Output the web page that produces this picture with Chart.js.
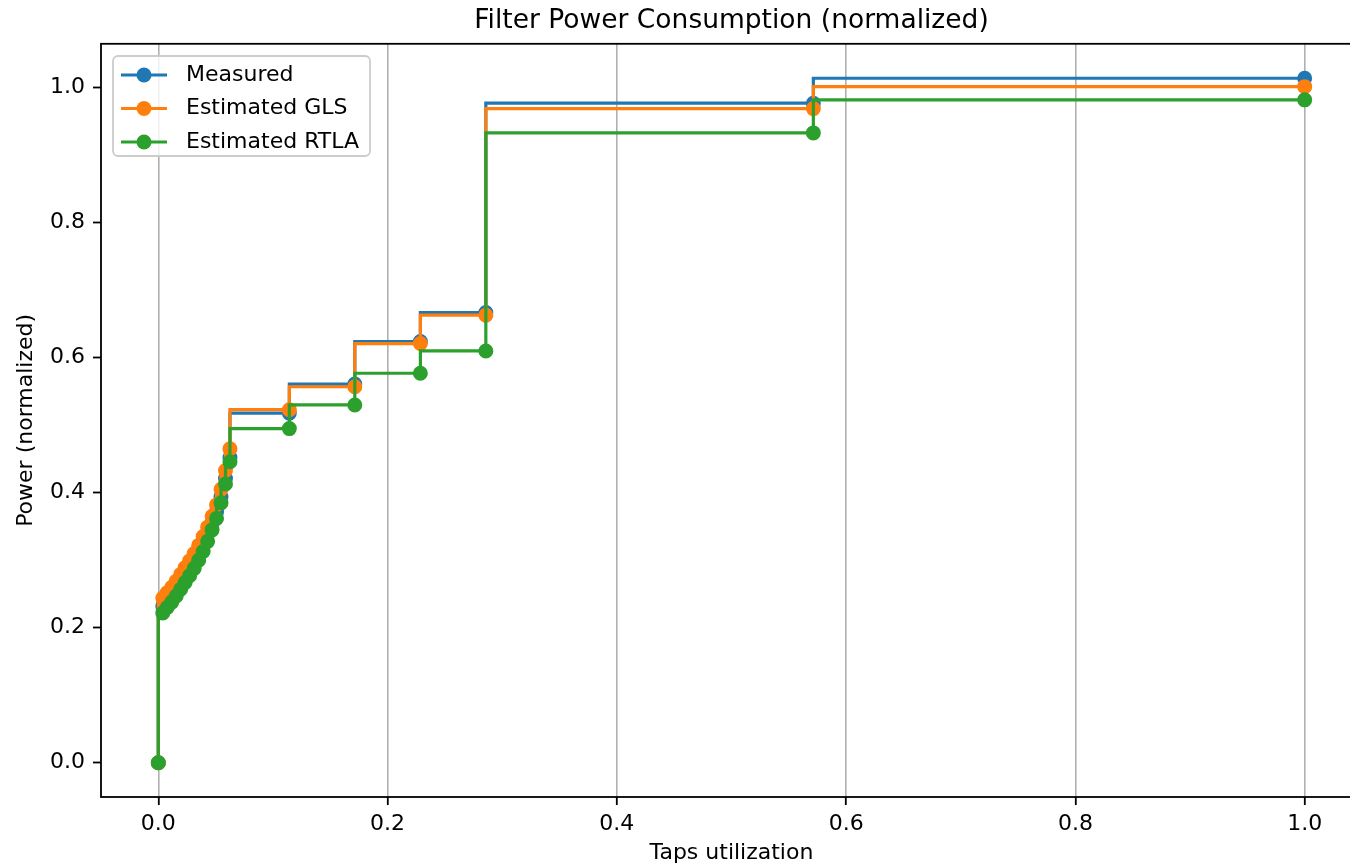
<!DOCTYPE html>
<html>
<head>
<meta charset="utf-8">
<script src="https://cdn.jsdelivr.net/npm/chart.js@4.4.1/dist/chart.umd.min.js"></script>
<style>
  html, body { margin: 0; padding: 0; background: #ffffff; overflow: hidden; }
  #wrap { width: 1380px; height: 866px; }
</style>
</head>
<body>
<div id="wrap"><canvas id="c" width="1380" height="866"></canvas></div>
<script>
// ---------------- data ----------------
const chartTitle = 'Filter Power Consumption (normalized)';
const xLabel = 'Taps utilization';
const yLabel = 'Power (normalized)';
const seriesNames = ['Measured', 'Estimated GLS', 'Estimated RTLA'];

const taps = [0,
  0.0039, 0.0078, 0.0117, 0.0156, 0.0195, 0.0234, 0.0273, 0.0313,
  0.0352, 0.0391, 0.0430, 0.0469, 0.0508, 0.0547, 0.0586, 0.0625,
  0.1143, 0.1714, 0.2286, 0.2857, 0.5714, 1.0];

const measured = [0,
  0.232, 0.240, 0.248, 0.257, 0.267, 0.277, 0.287, 0.298,
  0.311, 0.324, 0.339, 0.355, 0.372, 0.394, 0.421, 0.452,
  0.518, 0.561, 0.624, 0.667, 0.977, 1.014];

const estimatedGLS = [0,
  0.244, 0.252, 0.260, 0.269, 0.279, 0.289, 0.299, 0.310,
  0.322, 0.335, 0.349, 0.365, 0.382, 0.405, 0.433, 0.465,
  0.523, 0.557, 0.621, 0.663, 0.969, 1.0015];

const estimatedRTLA = [0,
  0.222, 0.230, 0.238, 0.247, 0.257, 0.267, 0.277, 0.288,
  0.300, 0.313, 0.328, 0.345, 0.362, 0.385, 0.413, 0.446,
  0.495, 0.530, 0.577, 0.610, 0.933, 0.982];

const xTicks = [0.0, 0.2, 0.4, 0.6, 0.8, 1.0];
const yTicks = [0.0, 0.2, 0.4, 0.6, 0.8, 1.0];
const xRange = [-0.05, 1.05];
const yRange = [-0.0507, 1.065];

// ---------------- chart ----------------
const colors = ['#1f77b4', '#ff7f0e', '#2ca02c'];
const FONT = 'DejaVu Sans';
Chart.defaults.font.family = FONT;
Chart.defaults.color = '#000000';

function pairs(ys) { return taps.map((x, i) => ({ x: x, y: ys[i] })); }

const seriesValues = [measured, estimatedGLS, estimatedRTLA];
const datasets = seriesValues.map((vals, i) => ({
  label: seriesNames[i],
  data: pairs(vals),
  borderColor: colors[i],
  backgroundColor: colors[i],
  pointBackgroundColor: colors[i],
  pointBorderColor: colors[i],
  borderWidth: 3.2,
  pointRadius: 6.5,
  pointBorderWidth: 2,
  pointHoverRadius: 6.5,
  stepped: 'after',
  fill: false,
  tension: 0,
  order: 3 - i
}));

const framePlugin = {
  id: 'frame',
  afterDatasetsDraw(chart) {
    const { ctx, chartArea: a } = chart;
    ctx.save();
    ctx.strokeStyle = '#000000';
    ctx.lineWidth = 1.8;
    ctx.strokeRect(a.left, a.top, a.right - a.left, a.bottom - a.top);
    ctx.restore();
  }
};

const legendPlugin = {
  id: 'boxLegend',
  afterDraw(chart) {
    const ctx = chart.ctx;
    const bx = 113, by = 56, bw = 257, bh = 100, r = 5;
    ctx.save();
    ctx.beginPath();
    ctx.roundRect(bx, by, bw, bh, r);
    ctx.fillStyle = 'rgba(255,255,255,0.8)';
    ctx.fill();
    ctx.strokeStyle = '#cccccc';
    ctx.lineWidth = 1.8;
    ctx.stroke();
    chart.data.datasets.forEach((ds, i) => {
      const y = 75 + i * 33.5;
      ctx.strokeStyle = ds.borderColor;
      ctx.lineWidth = 3.2;
      ctx.beginPath();
      ctx.moveTo(121, y);
      ctx.lineTo(167, y);
      ctx.stroke();
      ctx.fillStyle = ds.borderColor;
      ctx.beginPath();
      ctx.arc(144, y, 7.5, 0, Math.PI * 2);
      ctx.fill();
      ctx.fillStyle = '#000000';
      ctx.font = '22px "' + FONT + '"';
      ctx.textAlign = 'left';
      ctx.textBaseline = 'middle';
      ctx.fillText(ds.label, 186, y);
    });
    ctx.restore();
  }
};

new Chart(document.getElementById('c'), {
  type: 'line',
  data: { datasets: datasets },
  plugins: [framePlugin, legendPlugin],
  options: {
    responsive: false,
    animation: false,
    devicePixelRatio: 1,
    layout: { padding: { left: 0, right: 18, top: 0, bottom: 0 } },
    plugins: {
      legend: { display: false },
      tooltip: { enabled: false },
      title: {
        display: true,
        text: chartTitle,
        fullSize: false,
        color: '#000000',
        font: { family: FONT, size: 26.5, weight: 'normal', lineHeight: 1.2 },
        padding: { top: 5, bottom: 7 }
      }
    },
    scales: {
      x: {
        type: 'linear',
        min: xRange[0],
        max: xRange[1],
        afterBuildTicks: (s) => { s.ticks = xTicks.map(v => ({ value: v })); },
        afterFit: (s) => { s.height = 69; },
        ticks: {
          callback: (v) => Number(v).toFixed(1),
          font: { family: FONT, size: 22 },
          color: '#000000',
          padding: 6,
          maxRotation: 0,
          autoSkip: false
        },
        grid: {
          display: true,
          drawOnChartArea: true,
          color: '#b0b0b0',
          lineWidth: 1.6,
          drawTicks: true,
          tickLength: 8,
          tickColor: '#000000',
          tickWidth: 1.8
        },
        border: { display: false },
        title: {
          display: true,
          text: xLabel,
          color: '#000000',
          font: { family: FONT, size: 22, lineHeight: 1.2 },
          padding: { top: 0, bottom: 0 }
        }
      },
      y: {
        type: 'linear',
        min: yRange[0],
        max: yRange[1],
        afterBuildTicks: (s) => { s.ticks = yTicks.map(v => ({ value: v })); },
        afterFit: (s) => { s.width = 101; },
        ticks: {
          callback: (v) => Number(v).toFixed(1),
          font: { family: FONT, size: 22 },
          color: '#000000',
          padding: 8,
          autoSkip: false
        },
        grid: {
          display: true,
          drawOnChartArea: false,
          drawTicks: true,
          tickLength: 8,
          tickColor: '#000000',
          tickWidth: 1.8
        },
        border: { display: false },
        title: {
          display: true,
          text: yLabel,
          color: '#000000',
          font: { family: FONT, size: 22, lineHeight: 1.2 },
          padding: { top: 13, bottom: 0 }
        }
      }
    }
  }
});
</script>
</body>
</html>
